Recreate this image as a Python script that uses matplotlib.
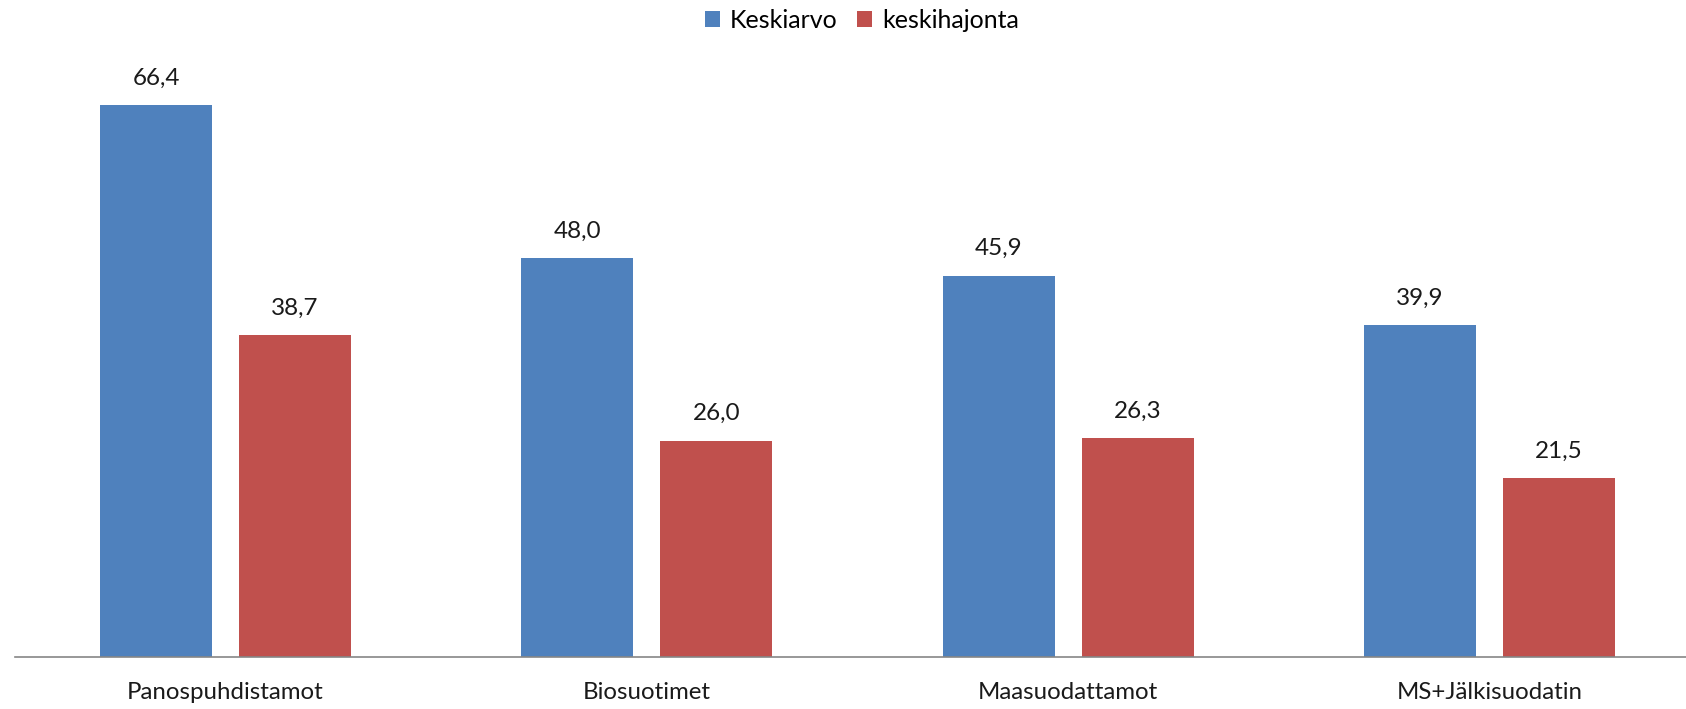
import numpy as np
import matplotlib.pyplot as plt

plt.rcParams['font.family'] = ['Lato', 'DejaVu Sans']

categories = ['Panospuhdistamot', 'Biosuotimet', 'Maasuodattamot', 'MS+Jälkisuodatin']
keskiarvo = [66.4, 48.0, 45.9, 39.9]
keskihajonta = [38.7, 26.0, 26.3, 21.5]

blue = '#4F81BD'
red = '#C0504D'

fig = plt.figure(figsize=(16.86, 7.09), dpi=100)
# plot area runs slightly past the right edge
ax = fig.add_axes([15 / 1686, 52 / 709, 1685 / 1686, 597 / 709])

x = np.arange(len(categories))
w = 0.266
off = 0.165
b1 = ax.bar(x - off, keskiarvo, w, color=blue, label='Keskiarvo')
b2 = ax.bar(x + off, keskihajonta, w, color=red, label='keskihajonta')

for bars, vals in ((b1, keskiarvo), (b2, keskihajonta)):
    for rect, v in zip(bars, vals):
        ax.annotate(f'{v:.1f}'.replace('.', ','),
                    (rect.get_x() + rect.get_width() / 2, v),
                    xytext=(0, 12), textcoords='offset points',
                    ha='center', va='bottom', fontsize=17.5, color='#1a1a1a')

ax.set_xlim(-0.5, len(categories) - 0.5)
ax.set_ylim(0, 71.84)
ax.set_xticks(x)
ax.set_xticklabels(categories, fontsize=17.3, color='#1a1a1a')
ax.tick_params(axis='x', length=0, pad=18)
ax.set_yticks([])
for s in ('top', 'right', 'left'):
    ax.spines[s].set_visible(False)
ax.spines['bottom'].set_color('#868686')
ax.spines['bottom'].set_linewidth(1.2)

fig.legend(loc='center', bbox_to_anchor=(862 / 1686, 1 - 20 / 709), ncol=2, frameon=False,
           fontsize=18, handlelength=0.6, handleheight=0.6, handletextpad=0.4,
           columnspacing=0.8)

fig.savefig('out.png', dpi=100)
